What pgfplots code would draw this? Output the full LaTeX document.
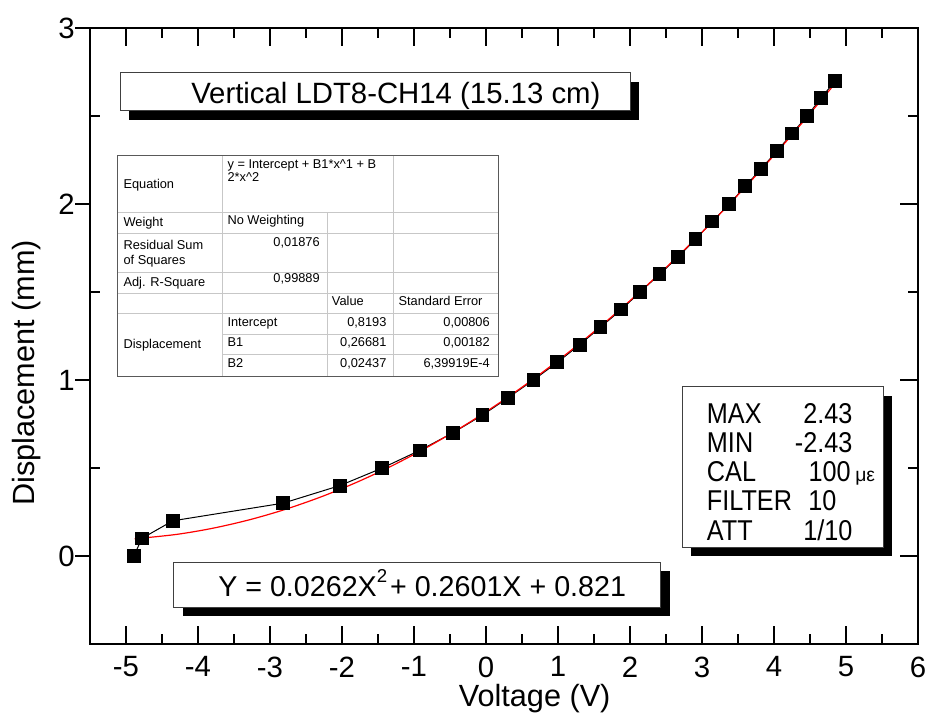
\documentclass[border=0pt]{standalone}
\usepackage{fontspec}
\setmainfont{Liberation Sans}
\newfontfamily\narrowfont{Liberation Sans}[FakeStretch=0.88]
\usepackage{pgfplots}
\pgfplotsset{compat=1.18}
\newcommand\tickfont{\fontsize{22}{26}\selectfont}
\newcommand\labfont{\fontsize{23}{27}\selectfont}
\newcommand\titfont{\fontsize{22}{26}\selectfont}
\newcommand\boxfont{\fontsize{21.5}{25}\selectfont}
\newcommand\infofont{\narrowfont\fontsize{21.5}{25}\selectfont}
\newcommand\tabfont{\fontsize{9.6}{11}\selectfont}
\pgfplotsset{base/.style={scale only axis, width=621pt, height=462pt,
  xmin=-5.5, xmax=6, ymin=-0.5, ymax=3, at={(0,0)}, anchor=south west,
  /pgf/number format/assume math mode=true,
  tick style={black, line width=1.2pt},
  tick label style={font=\tickfont}}}
\begin{document}
\begin{tikzpicture}
\useasboundingbox (-67.5pt,-54.75pt) rectangle (630pt,483pt);
% main axis with data
\begin{axis}[base,
  axis line style={line width=1.6pt},
  xtick={-5,-4,...,6}, minor x tick num=1, tick align=inside,
  xtick pos=both,
  ytick={0,1,2,3}, minor y tick num=1, ytick pos=right, yticklabels={},
  major tick length=13.5pt, minor tick length=7.5pt,
  xticklabel style={yshift=-6pt},
  xlabel={Voltage (V)}, ylabel={Displacement (mm)},
  xlabel style={font=\labfont, at={(axis description cs:0.537,-0.102)}, anchor=base},
  ylabel style={font=\labfont, at={(axis description cs:-0.076,0.44)}, anchor=center},
  clip=false]
\addplot[black, line width=0.75pt, mark=square*, mark size=4.8pt, mark options={solid}] coordinates {
(-4.89,0) (-4.78,0.1) (-4.35,0.2) (-2.82,0.3) (-2.03,0.4) (-1.44,0.5) (-0.92,0.6) (-0.46,0.7) (-0.05,0.8) (0.31,0.9) (0.66,1.0) (0.99,1.1) (1.30,1.2) (1.59,1.3) (1.88,1.4) (2.14,1.5) (2.41,1.6) (2.67,1.7) (2.91,1.8) (3.14,1.9) (3.38,2.0) (3.60,2.1) (3.82,2.2) (4.04,2.3) (4.25,2.4) (4.46,2.5) (4.65,2.6) (4.85,2.7)};
\addplot[red, line width=0.9pt, smooth, no marks] coordinates {
(-4.88,0.0976) (-4.3,0.1226) (-3.8,0.1573) (-3.3,0.2042) (-2.8,0.2633) (-2.3,0.3346) (-1.8,0.4180) (-1.3,0.5136) (-0.8,0.6215) (-0.3,0.7415) (0.2,0.8736) (0.7,1.0180) (1.2,1.1746) (1.7,1.3433) (2.2,1.5242) (2.7,1.7174) (3.2,1.9226) (3.7,2.1401) (4.2,2.3698) (4.7,2.6116) (4.85,2.6866)};
\end{axis}
% left major ticks, outside, with labels
\begin{axis}[base, hide x axis, axis line style={draw=none},
  ytick={0,1,2,3}, ytick pos=left, tick align=outside, major tick length=11pt,
  yticklabel style={xshift=3pt}]
\end{axis}
% left minor ticks, inside
\begin{axis}[base, hide x axis, axis line style={draw=none},
  ytick={0.5,1.5,2.5}, ytick pos=left, tick align=inside, major tick length=7.5pt,
  yticklabels={}]
\end{axis}
\begin{scope}[x=0.75pt,y=-0.75pt,shift={(-90,-644)}]
% title box
\fill[black] (129,82) rectangle (639,120);
\draw[fill=white, draw=black!75, line width=0.75pt] (120,73) rectangle (630,111);
\node[anchor=base west, inner sep=0, font=\titfont] at (191,104) {Vertical LDT8-CH14 (15.13 cm)};
% equation box
\fill[black] (183,571) rectangle (670,616);
\draw[fill=white, draw=black!75, line width=0.75pt] (173,562) rectangle (660,607);
\node[anchor=base west, inner sep=0, font=\boxfont] at (218,596.7) {Y = 0.0262X\raisebox{0.5em}{\fontsize{14}{14}\selectfont 2}\hspace{0.1em}+ 0.2601X + 0.821};
% info box
\fill[black] (691,396) rectangle (892,556);
\draw[fill=white, draw=black!75, line width=0.75pt] (682,387) rectangle (883,547);
\begin{scope}[every node/.style={inner sep=0, font=\infofont}]
\node[anchor=base west] at (706.7,423.3) {MAX};
\node[anchor=base east] at (852.7,423.3) {2.43};
\node[anchor=base west] at (706.7,452.7) {MIN};
\node[anchor=base east] at (852.7,452.7) {-2.43};
\node[anchor=base west] at (706.7,481.7) {CAL};
\node[anchor=base west] at (808.3,481.7) {100};
\node[anchor=base west, font=\fontsize{14.5}{16}\selectfont] at (855,481.7) {με};
\node[anchor=base west] at (706.7,510.7) {FILTER};
\node[anchor=base west] at (808,510.7) {10};
\node[anchor=base west] at (706.7,540) {ATT};
\node[anchor=base east] at (852.7,540) {1/10};
\end{scope}
% table
\fill[white] (117,156) rectangle (498,377);
\begin{scope}[draw=black!22, line width=0.75pt]
\draw (117,212.7) -- (498,212.7);
\draw (117,233.3) -- (498,233.3);
\draw (117,272.7) -- (498,272.7);
\draw (117,293.3) -- (498,293.3);
\draw (117,314) -- (498,314);
\draw (222,335) -- (498,335);
\draw (222,355) -- (498,355);
\draw (222,156) -- (222,377);
\draw (327,212.7) -- (327,377);
\draw (393,156) -- (393,377);
\end{scope}
\draw[draw=black!65, line width=0.75pt] (117,156) rectangle (498,377);
\begin{scope}[every node/.style={inner sep=0, font=\tabfont}]
\node[anchor=base west] at (123.3,189) {Equation};
\node[anchor=base west] at (227.3,168.5) {y = Intercept + B1*x\^{}1 + B};
\node[anchor=base west] at (227.3,182) {2*x\^{}2};
\node[anchor=base west] at (123.3,226.7) {Weight};
\node[anchor=base west] at (227.3,225) {No Weighting};
\node[anchor=base west] at (123.3,249.3) {Residual Sum};
\node[anchor=base west] at (123.3,264.3) {of Squares};
\node[anchor=base east] at (320,246.7) {0,01876};
\node[anchor=base west] at (123.3,286.7) {Adj. R-Square};
\node[anchor=base east] at (320,282.7) {0,99889};
\node[anchor=base west] at (331.7,306) {Value};
\node[anchor=base west] at (398.3,306) {Standard Error};
\node[anchor=base west] at (123.3,349) {Displacement};
\node[anchor=base west] at (227.3,326.7) {Intercept};
\node[anchor=base west] at (227.3,346.7) {B1};
\node[anchor=base west] at (227.3,367.3) {B2};
\node[anchor=base east] at (386.7,326.7) {0,8193};
\node[anchor=base east] at (386.7,346.7) {0,26681};
\node[anchor=base east] at (386.7,367.3) {0,02437};
\node[anchor=base east] at (490,326.7) {0,00806};
\node[anchor=base east] at (490,346.7) {0,00182};
\node[anchor=base east] at (490,367.3) {6,39919E-4};
\end{scope}
\end{scope}
\end{tikzpicture}
\end{document}
